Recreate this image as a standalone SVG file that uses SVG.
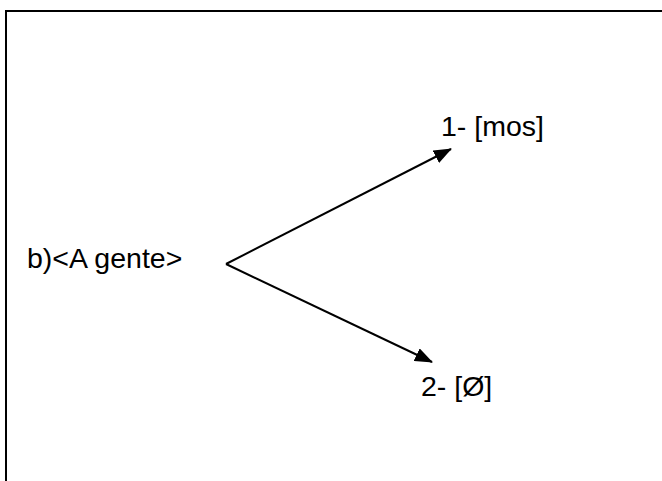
<svg xmlns="http://www.w3.org/2000/svg" width="662" height="481" viewBox="0 0 662 481">
<style>
.t{font-family:"Liberation Sans",Arial,sans-serif;font-size:28.5px;fill:#000}
.c{stroke:#000;stroke-width:2;fill:none}
</style>
<defs>
<marker id="ah" markerWidth="18" markerHeight="14" refX="17" refY="7" orient="auto" markerUnits="userSpaceOnUse">
<path d="M0,0 L18,7 L0,14 Z" fill="#000"/>
</marker>
</defs>
<rect width="662" height="481" fill="#fff"/>
<rect x="6" y="11" width="670" height="480" fill="none" stroke="#000" stroke-width="2"/>
<g id="root"><text class="t" x="27" y="268">b)&lt;A gente&gt;</text></g>
<g id="n1"><text class="t" x="441" y="136">1- [mos]</text></g>
<g id="n2"><text class="t" x="421" y="396">2- [Ø]</text></g>
<g id="connectors">
<line class="c" x1="226" y1="264" x2="451" y2="149" marker-end="url(#ah)"/>
<line class="c" x1="226" y1="264" x2="432" y2="362" marker-end="url(#ah)"/>
</g>
</svg>
